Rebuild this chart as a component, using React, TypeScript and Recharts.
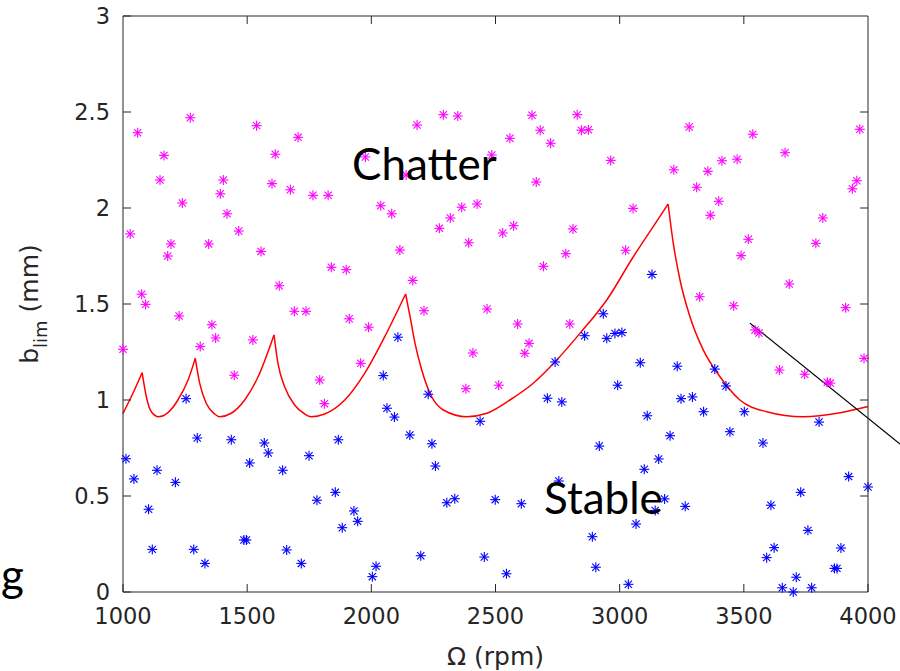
import { ComposedChart, XAxis, YAxis, Line, Scatter, ReferenceLine, Label } from 'recharts'

// stability lobe boundary
const lobeRpm = [
  1000, 1040, 1077, 1094, 1114, 1144, 1181, 1221, 1262, 1291, 1309, 1335, 1369, 1389, 1436, 1490, 1544, 1608,
  1624, 1651, 1691, 1732, 1758, 1812, 1893, 1973, 2054, 2138, 2156, 2176, 2203, 2236, 2290, 2384, 2465, 2558,
  2652, 2740, 2840, 2948, 3055, 3135, 3195, 3216, 3243, 3283, 3337, 3404, 3484, 3592, 3740, 3888, 4000,
]
const lobeBlim = [
  0.93, 1.035, 1.142, 1.017, 0.939, 0.913, 0.934, 1.0, 1.104, 1.217, 1.087, 0.983, 0.927, 0.913, 0.931, 1.0, 1.121,
  1.339, 1.191, 1.069, 0.974, 0.927, 0.913, 0.927, 1.0, 1.139, 1.33, 1.552, 1.434, 1.295, 1.156, 1.035, 0.948, 0.913,
  0.931, 1.0, 1.087, 1.199, 1.347, 1.521, 1.746, 1.903, 2.021, 1.816, 1.625, 1.434, 1.26, 1.121, 1.0, 0.939, 0.913,
  0.934, 0.966,
]
// spindle speeds where neighbouring lobes meet (sharp corners)
const lobeCusps = [1077, 1291, 1608, 2138, 3195]

// cuts that chattered (magenta)
const chatterRpm = [
  1059, 1271, 1165, 1149, 1029, 1075, 1091, 1239, 1180, 1193, 1404, 1392, 1419, 1466, 1345, 1538, 1613, 1600, 1556,
  1629, 1705, 1674, 1765, 1826, 1839, 1899, 1976, 2038, 2082, 2115, 2184, 2290, 2348, 2647, 2829, 2680, 2846, 2874,
  2558, 2722, 2485, 2140, 2964, 3218, 2664, 2364, 2426, 2318, 2274, 2573, 2529, 2812, 3054, 2392, 2783, 3024, 2693,
  2167, 3280, 3536, 3967, 3666, 3355, 3412, 3473, 3955, 3937, 3310, 3399, 3365, 3818, 3518, 3489, 3790, 3683, 3322,
  3459, 3910, 3545, 3561, 3984, 3643, 3745, 3836, 3848, 1000, 1226, 1358, 1373, 1311, 1448, 1523, 1690, 1737, 1911,
  1989, 1957, 1792, 1811, 2212, 2466, 2589, 2799, 2635, 2618, 2409, 2381, 2513,
]
const chatterBlim = [
  2.392, 2.47, 2.274, 2.146, 1.865, 1.551, 1.498, 2.026, 1.75, 1.813, 2.146, 2.074, 1.97, 1.88, 1.813, 2.429, 2.28,
  2.127, 1.774, 1.595, 2.368, 2.095, 2.066, 2.066, 1.691, 1.679, 2.266, 2.012, 1.97, 1.781, 2.432, 2.486, 2.479,
  2.483, 2.486, 2.405, 2.405, 2.408, 2.363, 2.337, 2.276, 2.172, 2.248, 2.199, 2.135, 2.004, 2.021, 1.948, 1.894,
  1.908, 1.87, 1.891, 1.998, 1.819, 1.762, 1.78, 1.696, 1.623, 2.422, 2.384, 2.41, 2.288, 2.191, 2.246, 2.254, 2.142,
  2.1, 2.108, 2.035, 1.962, 1.948, 1.837, 1.752, 1.816, 1.604, 1.538, 1.491, 1.481, 1.365, 1.349, 1.217, 1.156,
  1.134, 1.092, 1.088, 1.264, 1.438, 1.392, 1.323, 1.278, 1.129, 1.313, 1.462, 1.462, 1.423, 1.379, 1.191, 1.104,
  0.981, 1.465, 1.474, 1.396, 1.396, 1.295, 1.243, 1.245, 1.059, 1.077,
]

// stable cuts (blue)
const stableRpm = [
  1254, 1012, 1044, 1103, 1118, 1137, 1211, 1285, 1299, 1330, 1436, 1510, 1487, 1497, 1569, 1585, 1643, 1659, 1718,
  1749, 1781, 1855, 1867, 1883, 1930, 1945, 2004, 2019, 2048, 2063, 2093, 2107, 2229, 2155, 2244, 2258, 2304, 2336,
  2438, 2499, 2604, 2199, 2455, 2544, 2740, 2709, 2767, 2934, 2859, 2948, 2981, 3009, 3083, 2992, 2918, 2755, 2890,
  2904, 3035, 3066, 3099, 3111, 3157, 3203, 3232, 3247, 3181, 3143, 3130, 3293, 3383, 3428, 3338, 3502, 3444, 3577,
  3803, 3264, 3922, 4000, 3729, 3609, 3758, 3622, 3592, 3891, 3865, 3875, 3711, 3655, 3699, 3773,
]
const stableBlim = [
  1.007, 0.694, 0.589, 0.431, 0.222, 0.634, 0.571, 0.222, 0.802, 0.149, 0.793, 0.672, 0.271, 0.271, 0.776, 0.724,
  0.634, 0.219, 0.149, 0.71, 0.478, 0.519, 0.793, 0.335, 0.422, 0.368, 0.08, 0.134, 1.127, 0.957, 0.911, 1.327, 1.03,
  0.818, 0.772, 0.656, 0.465, 0.486, 0.889, 0.481, 0.46, 0.189, 0.182, 0.095, 1.198, 1.009, 0.99, 1.449, 1.335,
  1.321, 1.347, 1.351, 1.194, 1.077, 0.76, 0.578, 0.288, 0.129, 0.04, 0.354, 0.639, 0.918, 0.693, 0.814, 1.176,
  1.007, 0.485, 0.425, 1.654, 1.016, 1.161, 1.073, 0.939, 0.939, 0.835, 0.776, 0.885, 0.446, 0.601, 0.547, 0.519,
  0.452, 0.321, 0.231, 0.179, 0.229, 0.123, 0.123, 0.077, 0.022, 0.0, 0.022,
]

// black annotation stroke
const guideRpm = [3525, 4129]
const guideBlim = [1.4, 0.771]

const rpmTicks = [1000, 1500, 2000, 2500, 3000, 3500, 4000]
const blimTicks = [0, 0.5, 1, 1.5, 2, 2.5, 3]
const rpmDomain = [1000, 4000]
const blimDomain = [0, 3]

const pairs = (xs: number[], ys: number[]) => xs.map((x, i) => ({ x, y: ys[i] }))

const lobe = pairs(lobeRpm, lobeBlim)
const chatter = pairs(chatterRpm, chatterBlim)
const stable = pairs(stableRpm, stableBlim)
const guide = pairs(guideRpm, guideBlim)

// one smooth piece between each pair of cusps so the corners stay sharp
const edges = [lobeRpm[0], ...lobeCusps, lobeRpm[lobeRpm.length - 1]]
const lobePieces = edges.slice(1).map((hi, i) => lobe.filter((p) => p.x >= edges[i] && p.x <= hi))

// layout
const W = 900
const H = 671
const MARGIN_TOP = 16
const MARGIN_RIGHT = 32
const YAXIS_W = 123
const XAXIS_H = 79
const AXIS = '#262626'
const TICK = 8
const tickStyle = { fontFamily: 'DejaVu Sans', fontSize: 22.5, fill: AXIS }

// plot rectangle, used only for the closed MATLAB box (top/right edges + inward ticks)
const plotL = YAXIS_W
const plotR = W - MARGIN_RIGHT
const plotT = MARGIN_TOP
const plotB = H - XAXIS_H
const boxX = (v: number) => plotL + ((v - rpmDomain[0]) / (rpmDomain[1] - rpmDomain[0])) * (plotR - plotL)
const boxY = (v: number) => plotB - ((v - blimDomain[0]) / (blimDomain[1] - blimDomain[0])) * (plotB - plotT)

function Asterisk({ cx, cy, color }: { cx?: number; cy?: number; color: string }) {
  if (cx == null || cy == null) return null
  const r = 5
  const d = 3.6
  return (
    <g stroke={color} strokeWidth={1.1}>
      <line x1={cx - r} y1={cy} x2={cx + r} y2={cy} />
      <line x1={cx} y1={cy - r} x2={cx} y2={cy + r} />
      <line x1={cx - d} y1={cy - d} x2={cx + d} y2={cy + d} />
      <line x1={cx - d} y1={cy + d} x2={cx + d} y2={cy - d} />
    </g>
  )
}

function BlimLabel(props: any) {
  const vb = props.viewBox || {}
  const cx = 38
  const cy = (vb.y ?? 16) + (vb.height ?? 576) / 2
  return (
    <text
      x={cx}
      y={cy}
      transform={`rotate(-90 ${cx} ${cy})`}
      textAnchor="middle"
      fontFamily="DejaVu Sans"
      fontSize={25}
      fill={AXIS}
    >
      b
      <tspan fontSize={18} dy={9}>
        lim
      </tspan>
      <tspan dy={-9}> (mm)</tspan>
    </text>
  )
}

export default function App() {
  return (
    <div style={{ position: 'absolute', left: 0, top: 0, width: W, height: H, background: '#fff' }}>
      <ComposedChart width={W} height={H} margin={{ top: MARGIN_TOP, right: MARGIN_RIGHT, bottom: 0, left: 0 }}>
        <XAxis
          type="number"
          dataKey="x"
          domain={rpmDomain}
          ticks={rpmTicks}
          height={XAXIS_H}
          tickSize={-TICK}
          tickMargin={24}
          tick={tickStyle}
          stroke={AXIS}
        >
          <Label value="Ω (rpm)" position="insideBottom" offset={6} fill={AXIS} fontSize={25} fontFamily="DejaVu Sans" />
        </XAxis>
        <YAxis
          type="number"
          dataKey="y"
          domain={blimDomain}
          ticks={blimTicks}
          width={YAXIS_W}
          tickSize={-TICK}
          tickMargin={21}
          tick={tickStyle}
          stroke={AXIS}
          label={<BlimLabel />}
        />
        {lobePieces.map((piece, i) => (
          <Line
            key={i}
            data={piece}
            dataKey="y"
            type="monotoneX"
            stroke="#ff0000"
            strokeWidth={1.5}
            dot={false}
            activeDot={false}
            isAnimationActive={false}
          />
        ))}
        <Scatter
          data={chatter}
          dataKey="y"
          isAnimationActive={false}
          shape={(p: any) => <Asterisk cx={p.cx} cy={p.cy} color="#ff00ff" />}
        />
        <Scatter
          data={stable}
          dataKey="y"
          isAnimationActive={false}
          shape={(p: any) => <Asterisk cx={p.cx} cy={p.cy} color="#0000ff" />}
        />
        <ReferenceLine segment={guide} ifOverflow="visible" stroke="#000" strokeWidth={1.2} />
      </ComposedChart>
      <svg
        width={W}
        height={H}
        style={{ position: 'absolute', left: 0, top: 0, pointerEvents: 'none' }}
      >
        <g stroke={AXIS} strokeWidth={1} fill="none">
          <polyline points={`${plotL},${plotT} ${plotR},${plotT} ${plotR},${plotB}`} />
          {rpmTicks.slice(1, -1).map((t) => (
            <line key={`t${t}`} x1={boxX(t)} y1={plotT} x2={boxX(t)} y2={plotT + TICK} />
          ))}
          {blimTicks.slice(1, -1).map((t) => (
            <line key={`r${t}`} x1={plotR} y1={boxY(t)} x2={plotR - TICK} y2={boxY(t)} />
          ))}
        </g>
        <g fontFamily="Lato" fontSize={44} fill="#000">
          <text x={352} y={180}>Chatter</text>
          <text x={544} y={514}>Stable</text>
          <text x={1} y={591}>g</text>
        </g>
      </svg>
    </div>
  )
}
